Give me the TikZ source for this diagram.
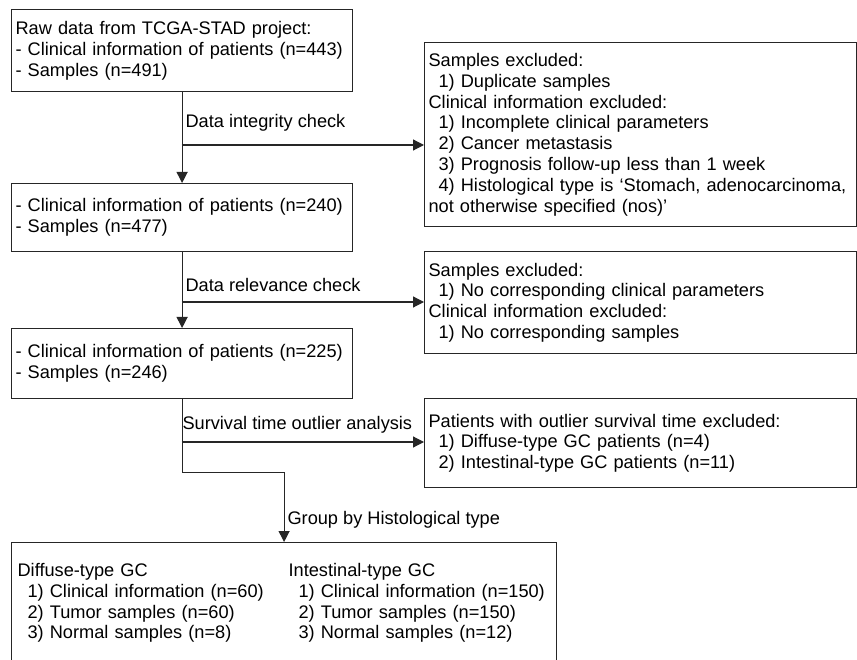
\documentclass[tikz,border=0pt]{standalone}
\usepackage{fontspec}
\setmainfont{Liberation Sans}
\usetikzlibrary{arrows.meta}
\tikzstyle{every node}=[font=\fontsize{18.2}{20.8}\selectfont]
\tikzstyle{box}=[draw=black!85,line width=1.2pt,rectangle,anchor=north west,align=left,inner xsep=4pt,inner ysep=0pt,execute at begin node={\hyphenpenalty=10000}]
\tikzstyle{lbox}=[box,text width=333pt,minimum width=341pt]
\tikzstyle{rbox}=[box,text width=424pt,minimum width=432pt]
\tikzstyle{flow}=[line width=1.2pt,draw=black!85,-{Triangle[length=11pt,width=11pt]}]
\tikzstyle{step label}=[anchor=west]
\newcommand{\ind}{\hspace*{10pt}}

\begin{document}
\begin{tikzpicture}[x=1pt,y=-1pt]
	\useasboundingbox (0,0) rectangle (857,660);

	\node(raw)[lbox,minimum height=82pt] at (11,9) {Raw data from TCGA-STAD project:\\- Clinical information of patients (n=443)\\- Samples (n=491)};
	\node(clin1)[lbox,minimum height=68pt] at (11,183) {- Clinical information of patients (n=240)\\- Samples (n=477)};
	\node(clin2)[lbox,minimum height=70pt] at (11,328) {- Clinical information of patients (n=225)\\- Samples (n=246)};

	\node(excl1)[rbox,minimum height=184pt] at (424,42) {Samples excluded:\\\ind 1) Duplicate samples\\Clinical information excluded:\\\ind 1) Incomplete clinical parameters\\\ind 2) Cancer metastasis\\\ind 3) Prognosis follow-up less than 1 week\\\ind 4) Histological type is ‘Stomach, adenocarcinoma,\\not otherwise specified (nos)’};
	\node(excl2)[rbox,minimum height=102pt] at (424,251) {Samples excluded:\\\ind 1) No corresponding clinical parameters\\Clinical information excluded:\\\ind 1) No corresponding samples};
	\node(excl3)[rbox,minimum height=89pt] at (424,398) {Patients with outlier survival time excluded:\\\ind 1) Diffuse-type GC patients (n=4)\\\ind 2) Intestinal-type GC patients (n=11)};

	\node(groups)[box,inner xsep=6pt,text width=533pt,minimum width=545pt,minimum height=122pt] at (11,542) {\begin{tabular}{@{}p{271pt}@{}l@{}}
		Diffuse-type GC & Intestinal-type GC\\
		\ind 1) Clinical information (n=60) & \ind 1) Clinical information (n=150)\\
		\ind 2) Tumor samples (n=60) & \ind 2) Tumor samples (n=150)\\
		\ind 3) Normal samples (n=8) & \ind 3) Normal samples (n=12)
	\end{tabular}};

	% check labels
	\node(integrity)[step label] at (182,123) {Data integrity check};
	\node(relevance)[step label] at (182,285) {Data relevance check};
	\node(outlier)[step label] at (179,425) {Survival time outlier analysis};
	\node(histo)[step label] at (284,520) {Group by Histological type};

	\coordinate (c1) at (181.5,145);
	\coordinate (c2) at (181.5,302);
	\coordinate (c3) at (181.5,442);

	\draw[flow] (raw) -- (clin1);
	\draw[flow] (c1) -- (excl1.west |- c1);
	\draw[flow] (clin1) -- (clin2);
	\draw[flow] (c2) -- (excl2.west |- c2);
	\draw[flow] (c3) -- (excl3.west |- c3);
	\draw[flow] (clin2.south) -- ++(0,73) -| (groups.north);
\end{tikzpicture}
\end{document}
